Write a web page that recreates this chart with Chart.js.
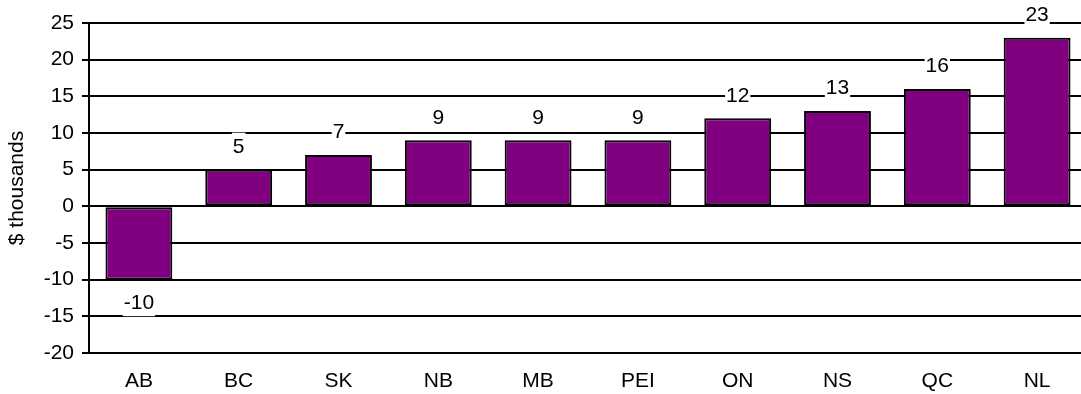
<!DOCTYPE html>
<html>
<head>
<meta charset="utf-8">
<script src="https://cdn.jsdelivr.net/npm/chart.js@4/dist/chart.umd.min.js"></script>
<style>
  html, body { margin: 0; padding: 0; background: #fff; overflow: hidden; }
  #wrap { position: relative; width: 1087px; height: 394px; }
</style>
</head>
<body>
<div id="wrap"><canvas id="c"></canvas></div>
<script>
// Provinces, ordered by value
const provinces = ['AB', 'BC', 'SK', 'NB', 'MB', 'PEI', 'ON', 'NS', 'QC', 'NL'];
// Difference, in thousands of dollars
const values = [-10, 5, 7, 9, 9, 9, 12, 13, 16, 23];
const axisMin = -20;
const axisMax = 25;
const axisStep = 5;

const FONT = 'Arial, "Liberation Sans", sans-serif';
const FONT_SIZE = 21;

// Value labels on a white box, above positive bars and below negative ones
const valueLabels = {
  id: 'valueLabels',
  afterDatasetsDraw(chart) {
    const ctx = chart.ctx;
    const meta = chart.getDatasetMeta(0);
    ctx.save();
    ctx.font = FONT_SIZE + 'px ' + FONT;
    ctx.textAlign = 'center';
    ctx.textBaseline = 'middle';
    meta.data.forEach((bar, i) => {
      const v = chart.data.datasets[0].data[i];
      const text = String(v);
      const y = v >= 0 ? bar.y - 23.5 : bar.y + 23;
      const w = ctx.measureText(text).width + 2;
      const h = 27;
      ctx.fillStyle = '#ffffff';
      ctx.fillRect(bar.x - w / 2, y - h / 2, w, h);
      ctx.fillStyle = '#000000';
      ctx.fillText(text, bar.x, y + 1);
    });
    ctx.restore();
  }
};

new Chart(document.getElementById('c'), {
  type: 'bar',
  data: {
    labels: provinces,
    datasets: [{
      data: values,
      backgroundColor: '#800080',
      borderColor: '#000000',
      borderWidth: 2,
      borderSkipped: false,
      categoryPercentage: 1.0,
      barPercentage: 0.67
    }]
  },
  options: {
    responsive: true,
    maintainAspectRatio: false,
    animation: false,
    devicePixelRatio: 1,
    layout: { padding: { top: 23, left: 0, right: 0, bottom: 0 } },
    plugins: {
      legend: { display: false },
      tooltip: { enabled: false }
    },
    scales: {
      x: {
        grid: { display: false, drawTicks: false },
        border: { display: true, color: '#000000', width: 2 },
        ticks: {
          color: '#000000',
          font: { family: FONT, size: FONT_SIZE },
          padding: 16,
          maxRotation: 0
        },
        afterFit(scale) { scale.height = 41; }
      },
      y: {
        min: axisMin,
        max: axisMax,
        grid: {
          color: '#000000',
          lineWidth: 2,
          drawTicks: true,
          tickLength: 7,
          tickColor: '#000000',
          tickWidth: 2
        },
        border: { display: true, color: '#000000', width: 2 },
        ticks: {
          stepSize: axisStep,
          color: '#000000',
          font: { family: FONT, size: FONT_SIZE },
          padding: 8
        },
        title: {
          display: true,
          text: '$ thousands',
          color: '#000000',
          font: { family: FONT, size: FONT_SIZE },
          padding: { top: 5, bottom: 0 }
        },
        afterFit(scale) { scale.width = 89; }
      }
    }
  },
  plugins: [valueLabels]
});
</script>
</body>
</html>
